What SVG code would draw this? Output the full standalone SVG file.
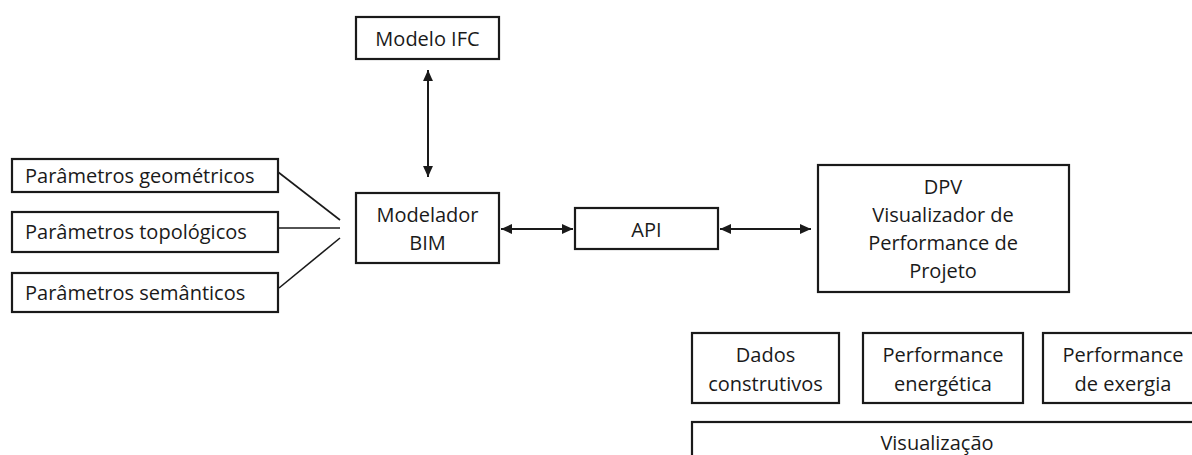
<svg xmlns="http://www.w3.org/2000/svg" width="1192" height="455" viewBox="0 0 1192 455">
<style>
.box{fill:#fff;stroke:#1a1a1a;stroke-width:2.2}
.t{font-family:"Open Sans","Liberation Sans",sans-serif;font-size:20px;fill:#1a1a1a;dominant-baseline:central}
.c{text-anchor:middle}
.ln{stroke:#1a1a1a;stroke-width:1.6;fill:none}
.ar{stroke:#1a1a1a;stroke-width:2;fill:none;marker-start:url(#ah);marker-end:url(#ah)}
</style>
<defs>
<marker id="ah" viewBox="0 0 10 9" refX="10" refY="4.5" markerWidth="5.5" markerHeight="5" orient="auto-start-reverse" markerUnits="strokeWidth">
<path d="M0,0 L10,4.5 L0,9 z" fill="#1a1a1a"/>
</marker>
</defs>
<rect width="1192" height="455" fill="#fff"/>
<g id="connectors">
<line class="ar" x1="428" y1="70" x2="428" y2="177"/>
<line class="ar" x1="501" y1="229" x2="573" y2="229"/>
<line class="ar" x1="720" y1="229" x2="811" y2="229"/>
<line class="ln" x1="278" y1="172" x2="340" y2="220"/>
<line class="ln" x1="278" y1="228" x2="340" y2="228"/>
<line class="ln" x1="279" y1="288" x2="340" y2="238"/>
</g>
<g id="modelo-ifc">
<rect class="box" x="356" y="17" width="143" height="42"/>
<text class="t c" x="427.5" y="38">Modelo IFC</text>
</g>
<g id="param-geo">
<rect class="box" x="12" y="159" width="266" height="33"/>
<text class="t" x="25" y="175">Parâmetros geométricos</text>
</g>
<g id="param-topo">
<rect class="box" x="12" y="212" width="266" height="40"/>
<text class="t" x="25" y="231">Parâmetros topológicos</text>
</g>
<g id="param-sem">
<rect class="box" x="12" y="273" width="266" height="39"/>
<text class="t" x="25" y="292">Parâmetros semânticos</text>
</g>
<g id="modelador-bim">
<rect class="box" x="356" y="193" width="143" height="70"/>
<text class="t c" x="427.5" y="214">Modelador</text>
<text class="t c" x="427.5" y="242">BIM</text>
</g>
<g id="api">
<rect class="box" x="575" y="208" width="143" height="41"/>
<text class="t c" x="646.5" y="229">API</text>
</g>
<g id="dpv">
<rect class="box" x="818" y="165" width="251" height="127"/>
<text class="t c" x="943" y="186">DPV</text>
<text class="t c" x="943" y="214">Visualizador de</text>
<text class="t c" x="943" y="242">Performance de</text>
<text class="t c" x="943" y="270">Projeto</text>
</g>
<g id="dados">
<rect class="box" x="692" y="333" width="147" height="70"/>
<text class="t c" x="765.5" y="354">Dados</text>
<text class="t c" x="765.5" y="383">construtivos</text>
</g>
<g id="perf-energetica">
<rect class="box" x="863" y="333" width="160" height="70"/>
<text class="t c" x="943" y="354">Performance</text>
<text class="t c" x="943" y="383">energética</text>
</g>
<g id="perf-exergia">
<rect class="box" x="1043" y="333" width="160" height="70"/>
<text class="t c" x="1123" y="354">Performance</text>
<text class="t c" x="1123" y="383">de exergia</text>
</g>
<g id="visualizacao">
<rect class="box" x="692" y="422" width="520" height="50"/>
<text class="t c" x="937" y="442">Visualização</text>
</g>
</svg>
